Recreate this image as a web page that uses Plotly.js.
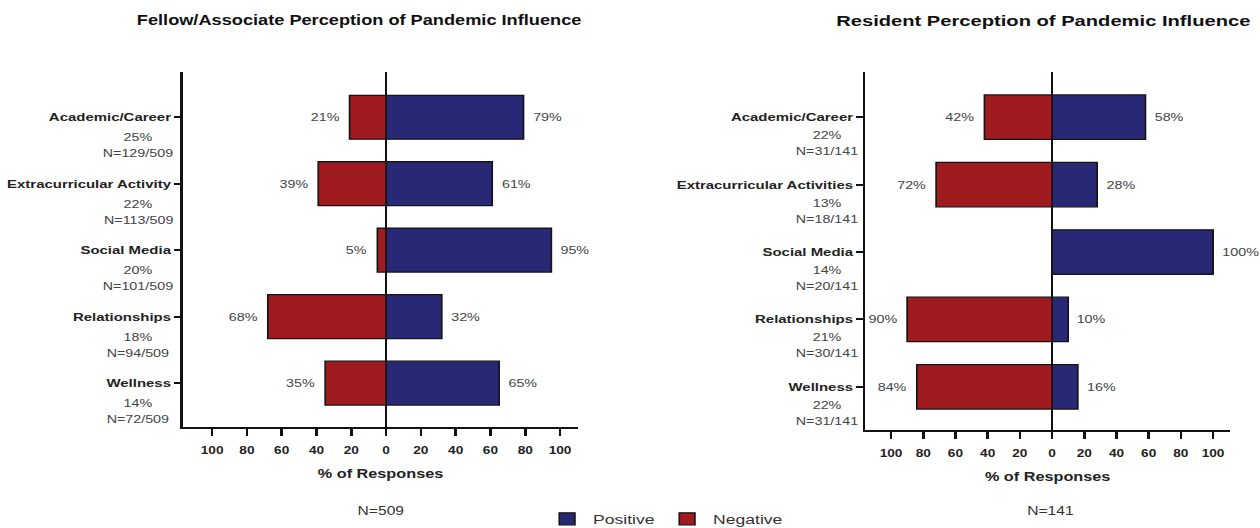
<!DOCTYPE html>
<html>
<head>
<meta charset="utf-8">
<script src="https://cdn.plot.ly/plotly-3.0.1.min.js"></script>
<style>
  html, body { margin: 0; padding: 0; background: #fff; overflow: hidden; }
  #wrap { width: 1260px; height: 528px; overflow: hidden; }
  #chart { width: 969px; height: 528px; transform: scaleX(1.30031); transform-origin: 0 0; }
</style>
</head>
<body>
<div id="wrap"><div id="chart"></div></div>
<script>
// ---- data ----
const catsFellow  = ['Academic/Career', 'Extracurricular Activity', 'Social Media', 'Relationships', 'Wellness'];
const shareFellow = ['25%', '22%', '20%', '18%', '14%'];
const nFellow     = ['N=129/509', 'N=113/509', 'N=101/509', 'N=94/509', 'N=72/509'];
const posFellow   = [79, 61, 95, 32, 65];
const negFellow   = [21, 39, 5, 68, 35];

const catsRes  = ['Academic/Career', 'Extracurricular Activities', 'Social Media', 'Relationships', 'Wellness'];
const shareRes = ['22%', '13%', '14%', '21%', '22%'];
const nRes     = ['N=31/141', 'N=18/141', 'N=20/141', 'N=30/141', 'N=31/141'];
const posRes   = [58, 28, 100, 10, 16];
const negRes   = [42, 72, 0, 90, 84];

const tickVals = [-100, -80, -60, -40, -20, 0, 20, 40, 60, 80, 100];
const tickText = ['100', '80', '60', '40', '20', '0', '20', '40', '60', '80', '100'];

const titleFellow = 'Fellow/Associate Perception of Pandemic Influence';
const titleRes    = 'Resident Perception of Pandemic Influence';
const totalFellow = 'N=509';
const totalRes    = 'N=141';

// ---- styles ----
const FONT = 'Liberation Sans, Arial, Helvetica, sans-serif';
const BLUE = '#282877';
const RED  = '#a01b20';
const EDGE = '#151515';

function barTrace(name, cats, vals, color, xa, ya, show) {
  return {
    type: 'bar', orientation: 'h', name: name,
    y: cats, x: vals, xaxis: xa, yaxis: ya,
    width: 0.66, showlegend: show, legendgroup: name,
    marker: { color: color, line: { color: EDGE, width: 1.3 } },
    hoverinfo: 'skip'
  };
}

const data = [
  barTrace('Positive', catsFellow, posFellow, BLUE, 'x', 'y', true),
  barTrace('Negative', catsFellow, negFellow.map(v => -v), RED, 'x', 'y', true),
  barTrace('Positive', catsRes, posRes, BLUE, 'x2', 'y2', false),
  barTrace('Negative', catsRes, negRes.map(v => -v), RED, 'x2', 'y2', false)
];

const annotations = [];
function valueLabels(cats, pos, neg, xr, yr) {
  cats.forEach((c, i) => {
    if (pos[i] > 0) annotations.push({
      xref: xr, yref: yr, x: pos[i], y: c, text: pos[i] + '%',
      xanchor: 'left', yanchor: 'middle', xshift: 5, showarrow: false,
      font: { family: FONT, size: 11, color: '#444' }
    });
    if (neg[i] > 0) annotations.push({
      xref: xr, yref: yr, x: -neg[i], y: c, text: neg[i] + '%',
      xanchor: 'right', yanchor: 'middle', xshift: -6, showarrow: false,
      font: { family: FONT, size: 11, color: '#444' }
    });
  });
}
function subLabels(cats, share, ns, xPaper, yr, s1, s2) {
  cats.forEach((c, i) => {
    annotations.push({
      xref: 'paper', yref: yr, x: xPaper, y: c, text: share[i],
      xanchor: 'center', yanchor: 'middle', yshift: s1, showarrow: false,
      font: { family: FONT, size: 11, color: '#444' }
    });
    annotations.push({
      xref: 'paper', yref: yr, x: xPaper, y: c, text: ns[i],
      xanchor: 'center', yanchor: 'middle', yshift: s2, showarrow: false,
      font: { family: FONT, size: 11, color: '#444' }
    });
  });
}
valueLabels(catsFellow, posFellow, negFellow, 'x', 'y');
valueLabels(catsRes, posRes, negRes, 'x2', 'y2');
subLabels(catsFellow, shareFellow, nFellow, 0.1096, 'y', -20, -36);
subLabels(catsRes, shareRes, nRes, 0.6564, 'y2', -18, -34);

annotations.push(
  { xref: 'paper', yref: 'paper', x: 0.2858, y: 0.962, text: titleFellow, showarrow: false,
    xanchor: 'center', yanchor: 'middle', font: { family: FONT, size: 14, color: '#111', weight: 'bold' } },
  { xref: 'paper', yref: 'paper', x: 0.8285, y: 0.962, text: titleRes, showarrow: false,
    xanchor: 'center', yanchor: 'middle', font: { family: FONT, size: 15.5, color: '#111', weight: 'bold' } },
  { xref: 'paper', yref: 'paper', x: 0.3024, y: 0.032, text: totalFellow, showarrow: false,
    xanchor: 'center', yanchor: 'middle', font: { family: FONT, size: 12, color: '#333' } },
  { xref: 'paper', yref: 'paper', x: 0.834, y: 0.032, text: totalRes, showarrow: false,
    xanchor: 'center', yanchor: 'middle', font: { family: FONT, size: 12, color: '#333' } }
);

function xAxis(domain, range, anchor) {
  return {
    domain: domain, range: range, anchor: anchor,
    tickvals: tickVals, ticktext: tickText,
    showline: true, linecolor: '#111', linewidth: 2,
    ticks: 'outside', ticklen: 7, tickwidth: 2, tickcolor: '#111',
    ticklabelstandoff: 5,
    showgrid: false, zeroline: true, zerolinecolor: '#111', zerolinewidth: 2,
    tickfont: { family: FONT, size: 10.5, color: '#222', weight: 'bold' },
    title: { text: '% of Responses', standoff: 15,
             font: { family: FONT, size: 12.5, color: '#222', weight: 'bold' } },
    fixedrange: true
  };
}
function yAxis(domain, range, anchor, cats) {
  return {
    domain: domain, range: range, anchor: anchor,
    type: 'category', categoryorder: 'array', categoryarray: cats,
    showline: true, linecolor: '#111', linewidth: 2,
    ticks: 'outside', ticklen: 5, tickwidth: 2, tickcolor: '#111',
    showgrid: false, zeroline: false,
    tickfont: { family: FONT, size: 11.5, color: '#222', weight: 'bold' },
    fixedrange: true
  };
}

const layout = {
  width: 969, height: 528,
  margin: { l: 0, r: 0, t: 0, b: 0, autoexpand: false },
  paper_bgcolor: '#fff', plot_bgcolor: '#fff',
  barmode: 'relative',
  showlegend: true,
  legend: {
    orientation: 'h', x: 0.528, y: 0.017, xanchor: 'center', yanchor: 'middle',
    font: { family: FONT, size: 13.5, color: '#333' }, traceorder: 'normal',
    itemwidth: 30
  },
  xaxis: xAxis([0.1453, 0.4587], [-116.7, 110.3], 'y'),
  yaxis: yAxis([0.1913, 0.8636], [4.66, -0.68], 'x', catsFellow),
  xaxis2: xAxis([0.6866, 0.9763], [-116.1, 110.6], 'y2'),
  yaxis2: yAxis([0.1856, 0.8636], [4.64, -0.67], 'x2', catsRes),
  annotations: annotations
};

Plotly.newPlot('chart', data, layout, { staticPlot: true, displayModeBar: false });
</script>
</body>
</html>
